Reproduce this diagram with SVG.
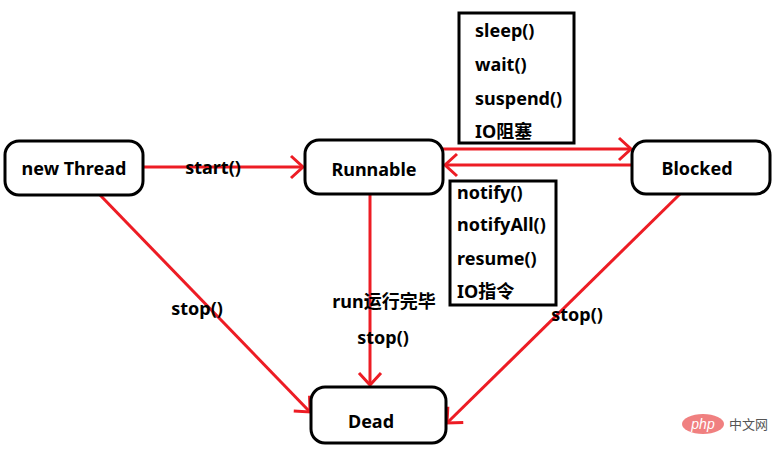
<svg xmlns="http://www.w3.org/2000/svg" width="782" height="457" viewBox="0 0 782 457">
<style>
.n{fill:#fff;stroke:#000;stroke-width:3}
.t{font-family:"Noto Sans","Noto Sans CJK SC",sans-serif;font-weight:bold;font-size:18px;fill:#000}
.c line{stroke:#ed1c24;stroke-width:3}
</style>
<defs>
<marker id="a" markerWidth="14" markerHeight="14" refX="12" refY="7" orient="auto" markerUnits="userSpaceOnUse" overflow="visible">
<path d="M0,-4 L12,7 L0,18" fill="none" stroke="#ed1c24" stroke-width="3"/>
</marker>
</defs>
<rect width="782" height="457" fill="#fff"/>
<g class="c" id="connectors">
<line x1="143" y1="167" x2="303" y2="167" marker-end="url(#a)"/>
<line x1="443" y1="149" x2="631" y2="149" marker-end="url(#a)"/>
<line x1="632" y1="165" x2="445" y2="165" marker-end="url(#a)"/>
<line x1="370" y1="194" x2="370" y2="385" marker-end="url(#a)"/>
<line x1="100" y1="195" x2="310" y2="412" marker-end="url(#a)"/>
<line x1="680" y1="194" x2="447" y2="423" marker-end="url(#a)"/>
<text class="t" x="213" y="174" text-anchor="middle">start()</text>
<text class="t" x="197" y="315" text-anchor="middle">stop()</text>
<text class="t" x="384" y="308" text-anchor="middle">run运行完毕</text>
<text class="t" x="383" y="344" text-anchor="middle">stop()</text>
<text class="t" x="577" y="321" text-anchor="middle">stop()</text>
</g>
<g id="newThread"><rect class="n" x="5" y="141" width="138" height="54" rx="14"/><text class="t" x="74" y="175" text-anchor="middle">new Thread</text></g>
<g id="runnable"><rect class="n" x="305" y="140" width="138" height="54" rx="14"/><text class="t" x="374" y="176" text-anchor="middle">Runnable</text></g>
<g id="blocked"><rect class="n" x="632" y="141" width="138" height="53" rx="14"/><text class="t" x="697" y="175" text-anchor="middle">Blocked</text></g>
<g id="dead"><rect class="n" x="311" y="387" width="135" height="56" rx="14"/><text class="t" x="371" y="428" text-anchor="middle">Dead</text></g>
<g id="blockReasons"><rect x="459" y="13" width="115" height="130" fill="#fff" stroke="#000" stroke-width="3"/>
<text class="t" x="475" y="37">sleep()</text><text class="t" x="475" y="71">wait()</text><text class="t" x="475" y="105">suspend()</text><text class="t" x="475" y="138">IO阻塞</text></g>
<g id="wakeReasons"><rect x="450" y="181" width="106" height="124" fill="#fff" stroke="#000" stroke-width="3"/>
<text class="t" x="457" y="199">notify()</text><text class="t" x="457" y="231">notifyAll()</text><text class="t" x="457" y="265">resume()</text><text class="t" x="457" y="298">IO指令</text></g>
<g id="watermark"><ellipse cx="703" cy="424" rx="21" ry="10" fill="#f08080"/><text x="703" y="429" text-anchor="middle" font-family="Liberation Sans,sans-serif" font-style="italic" font-size="14" fill="#fff">php</text><text x="729" y="429" font-family="Noto Sans CJK SC,sans-serif" font-size="13" fill="#555">中文网</text></g>
</svg>
